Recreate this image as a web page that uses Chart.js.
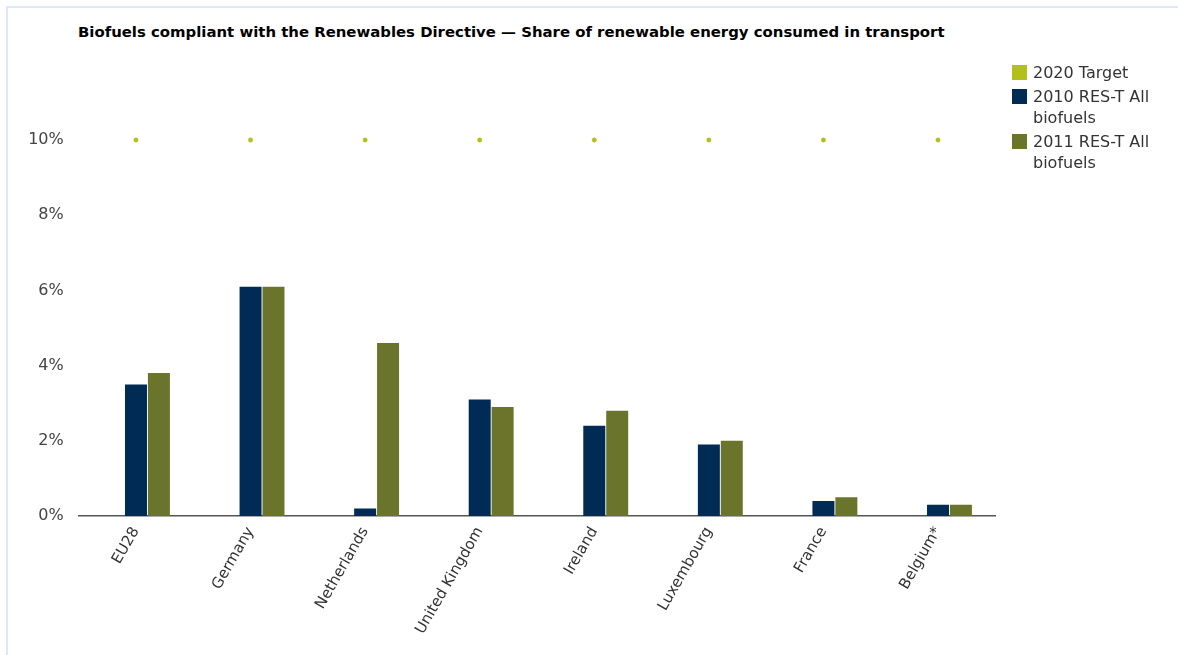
<!DOCTYPE html>
<html>
<head>
<meta charset="utf-8">
<script src="https://cdn.jsdelivr.net/npm/chart.js@4/dist/chart.umd.min.js"></script>
<style>
  html, body { margin: 0; padding: 0; background: #fff; }
  #wrap { position: relative; width: 1178px; height: 655px; overflow: hidden; font-family: "DejaVu Sans", Verdana, sans-serif; }
  #frame { position: absolute; left: 6px; top: 6px; right: 0; bottom: 0; border-top: 2px solid #dfe9f6; border-left: 2px solid #dfe9f6; }
  #title { position: absolute; left: 78px; top: 23px; font-size: 14.9px; font-weight: bold; color: #000; white-space: nowrap; }
  #legend { position: absolute; left: 1012px; top: 62px; width: 160px; font-size: 16px; color: #333; }
  .item { position: relative; padding-left: 21px; line-height: 21px; margin-bottom: 3px; }
  .sw { position: absolute; left: 0; top: 3px; width: 15px; height: 15px; }
  canvas { position: absolute; left: 0; top: 0; }
</style>
</head>
<body>
<div id="wrap">
  <div id="frame"></div>
  <div id="title">Biofuels compliant with the Renewables Directive — Share of renewable energy consumed in transport</div>
  <canvas id="c" width="1178" height="655"></canvas>
  <div id="legend"></div>
</div>
<script>
const categories = ["EU28", "Germany", "Netherlands", "United Kingdom", "Ireland", "Luxembourg", "France", "Belgium*"];
const target2020 = [10, 10, 10, 10, 10, 10, 10, 10];
const res2010 = [3.5, 6.1, 0.2, 3.1, 2.4, 1.9, 0.4, 0.3];
const res2011 = [3.8, 6.1, 4.6, 2.9, 2.8, 2.0, 0.5, 0.3];
const yTicks = [0, 2, 4, 6, 8, 10];
const seriesNames = ["2020 Target", "2010 RES-T All biofuels", "2011 RES-T All biofuels"];
const colors = ["#b3c01c", "#002b55", "#6b742b"];

const legend = document.getElementById('legend');
seriesNames.forEach((n, i) => {
  const d = document.createElement('div');
  d.className = 'item';
  d.style.width = '145px';
  d.innerHTML = '<span class="sw" style="background:' + colors[i] + '"></span>' + n;
  legend.appendChild(d);
});

new Chart(document.getElementById('c'), {
  data: {
    labels: categories,
    datasets: [
      { type: 'line', label: seriesNames[0], data: target2020, showLine: false, clip: false,
        pointStyle: 'circle', pointRadius: 2.2, pointHoverRadius: 2.2, pointBackgroundColor: colors[0], pointBorderColor: colors[0], pointBorderWidth: 0.5 },
      { type: 'bar', label: '_slot', data: categories.map(() => null), backgroundColor: 'rgba(0,0,0,0)' },
      { type: 'bar', label: seriesNames[1], data: res2010, backgroundColor: colors[1] },
      { type: 'bar', label: seriesNames[2], data: res2011, backgroundColor: colors[2] }
    ]
  },
  options: {
    responsive: false,
    animation: false,
    layout: { padding: { left: 0, right: 182.7, top: 140, bottom: 0 } },
    datasets: { bar: { categoryPercentage: 0.6, barPercentage: 0.96 } },
    plugins: { legend: { display: false }, tooltip: { enabled: false }, title: { display: false } },
    scales: {
      x: {
        grid: { display: false, drawTicks: false },
        border: { display: true, color: '#555', width: 1.5 },
        ticks: { color: '#333', font: { family: 'DejaVu Sans', size: 15 }, minRotation: 60, maxRotation: 60, padding: 8, autoSkip: false },
        afterFit: (s) => { s.height = 139; }
      },
      y: {
        min: 0, max: 10,
        grid: { display: false, drawTicks: false },
        border: { display: false },
        afterBuildTicks: (s) => { s.ticks = yTicks.map(v => ({ value: v })); },
        ticks: { color: '#444', font: { family: 'DejaVu Sans', size: 16 }, padding: 15, callback: v => v + '%' },
        afterFit: (s) => { s.width = 78.7; }
      }
    }
  }
});
</script>
</body>
</html>
